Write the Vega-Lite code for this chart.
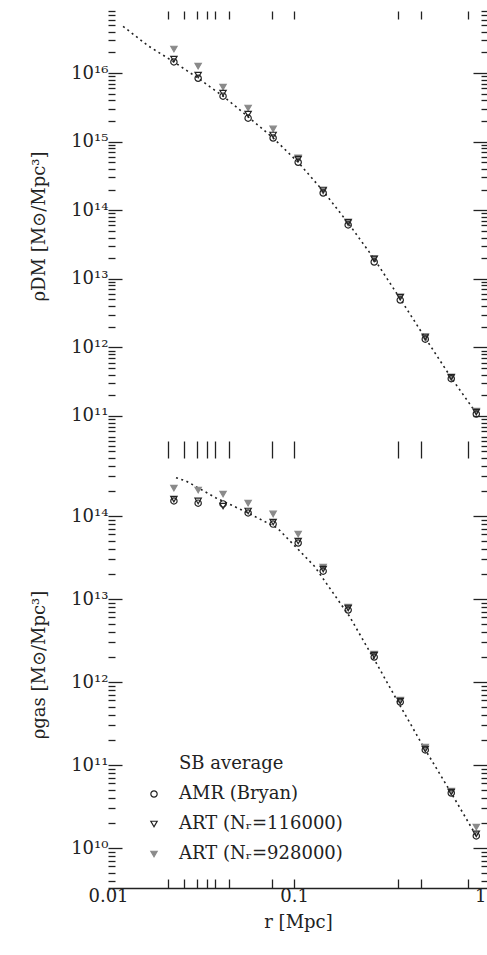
{
  "$schema": "https://vega.github.io/schema/vega-lite/v6.json",
  "padding": {"left": 30, "top": 10, "right": 0, "bottom": 5},
  "background": "white",
  "spacing": 0,
  "bounds": "flush",
  "config": {
    "view": {"stroke": null},
    "font": "DejaVu Serif",
    "axis": {"grid": false, "domain": false, "labelFont": "DejaVu Serif", "titleFont": "DejaVu Serif", "labelFontSize": 18, "titleFontSize": 18, "titleFontWeight": "normal", "labelColor": "#222", "titleColor": "#222", "tickColor": "#222", "tickWidth": 1.3, "labelOverlap": false, "labelFlush": false},
    "legend": {"orient": "none", "legendX": 37, "legendY": 744, "title": null, "labelFontSize": 18, "labelFont": "DejaVu Serif", "labelColor": "#222", "labelLimit": 0, "rowPadding": 12, "labelOffset": 16, "padding": 0, "symbolStrokeWidth": 1.2}
  },
  "datasets": {
    "dm": [
      {"series": "ART (Nᵣ=928000)", "r": 0.0226, "rho": 2.24e16},
      {"series": "ART (Nᵣ=928000)", "r": 0.0305, "rho": 1.26e16},
      {"series": "ART (Nᵣ=928000)", "r": 0.0415, "rho": 6.25e15},
      {"series": "ART (Nᵣ=928000)", "r": 0.0566, "rho": 3.09e15},
      {"series": "ART (Nᵣ=928000)", "r": 0.0771, "rho": 1.53e15},
      {"series": "ART (Nᵣ=928000)", "r": 0.1051, "rho": 5.8e14},
      {"series": "ART (Nᵣ=928000)", "r": 0.1432, "rho": 1.9e14},
      {"series": "ART (Nᵣ=928000)", "r": 0.1951, "rho": 6.5e13},
      {"series": "ART (Nᵣ=928000)", "r": 0.2692, "rho": 1.95e13},
      {"series": "ART (Nᵣ=928000)", "r": 0.3715, "rho": 5.4e12},
      {"series": "ART (Nᵣ=928000)", "r": 0.5063, "rho": 1.37e12},
      {"series": "ART (Nᵣ=928000)", "r": 0.6982, "rho": 3.6e11},
      {"series": "ART (Nᵣ=928000)", "r": 0.9517, "rho": 1.18e11},
      {"series": "AMR (Bryan)", "r": 0.0226, "rho": 1.45e16},
      {"series": "AMR (Bryan)", "r": 0.0305, "rho": 8.4e15},
      {"series": "AMR (Bryan)", "r": 0.0415, "rho": 4.6e15},
      {"series": "AMR (Bryan)", "r": 0.0566, "rho": 2.2e15},
      {"series": "AMR (Bryan)", "r": 0.0771, "rho": 1.13e15},
      {"series": "AMR (Bryan)", "r": 0.1051, "rho": 5.0e14},
      {"series": "AMR (Bryan)", "r": 0.1432, "rho": 1.78e14},
      {"series": "AMR (Bryan)", "r": 0.1951, "rho": 6.1e13},
      {"series": "AMR (Bryan)", "r": 0.2692, "rho": 1.76e13},
      {"series": "AMR (Bryan)", "r": 0.3715, "rho": 4.9e12},
      {"series": "AMR (Bryan)", "r": 0.5063, "rho": 1.32e12},
      {"series": "AMR (Bryan)", "r": 0.6982, "rho": 3.5e11},
      {"series": "AMR (Bryan)", "r": 0.9517, "rho": 1.07e11},
      {"series": "ART (Nᵣ=116000)", "r": 0.0226, "rho": 1.6e16},
      {"series": "ART (Nᵣ=116000)", "r": 0.0305, "rho": 9.35e15},
      {"series": "ART (Nᵣ=116000)", "r": 0.0415, "rho": 5.1e15},
      {"series": "ART (Nᵣ=116000)", "r": 0.0566, "rho": 2.52e15},
      {"series": "ART (Nᵣ=116000)", "r": 0.0771, "rho": 1.25e15},
      {"series": "ART (Nᵣ=116000)", "r": 0.1051, "rho": 5.57e14},
      {"series": "ART (Nᵣ=116000)", "r": 0.1432, "rho": 1.97e14},
      {"series": "ART (Nᵣ=116000)", "r": 0.1951, "rho": 6.7e13},
      {"series": "ART (Nᵣ=116000)", "r": 0.2692, "rho": 1.95e13},
      {"series": "ART (Nᵣ=116000)", "r": 0.3715, "rho": 5.4e12},
      {"series": "ART (Nᵣ=116000)", "r": 0.5063, "rho": 1.42e12},
      {"series": "ART (Nᵣ=116000)", "r": 0.6982, "rho": 3.7e11},
      {"series": "ART (Nᵣ=116000)", "r": 0.9517, "rho": 1.14e11},
      {"series": "SB average", "r": 0.01205, "rho": 4.8e16},
      {"series": "SB average", "r": 0.0164, "rho": 2.5e16},
      {"series": "SB average", "r": 0.0226, "rho": 1.45e16},
      {"series": "SB average", "r": 0.0305, "rho": 8.4e15},
      {"series": "SB average", "r": 0.0415, "rho": 4.6e15},
      {"series": "SB average", "r": 0.0566, "rho": 2.3e15},
      {"series": "SB average", "r": 0.0771, "rho": 1.13e15},
      {"series": "SB average", "r": 0.1051, "rho": 5.0e14},
      {"series": "SB average", "r": 0.1432, "rho": 1.9e14},
      {"series": "SB average", "r": 0.1951, "rho": 6.5e13},
      {"series": "SB average", "r": 0.2692, "rho": 1.95e13},
      {"series": "SB average", "r": 0.3715, "rho": 5.1e12},
      {"series": "SB average", "r": 0.5063, "rho": 1.37e12},
      {"series": "SB average", "r": 0.6982, "rho": 3.6e11},
      {"series": "SB average", "r": 0.9517, "rho": 1.1e11}
    ],
    "gas": [
      {"series": "ART (Nᵣ=928000)", "r": 0.0226, "rho": 2.17e14},
      {"series": "ART (Nᵣ=928000)", "r": 0.0305, "rho": 2.06e14},
      {"series": "ART (Nᵣ=928000)", "r": 0.0415, "rho": 1.84e14},
      {"series": "ART (Nᵣ=928000)", "r": 0.0566, "rho": 1.43e14},
      {"series": "ART (Nᵣ=928000)", "r": 0.0771, "rho": 1.06e14},
      {"series": "ART (Nᵣ=928000)", "r": 0.1051, "rho": 6.07e13},
      {"series": "ART (Nᵣ=928000)", "r": 0.1432, "rho": 2.43e13},
      {"series": "ART (Nᵣ=928000)", "r": 0.1951, "rho": 8.0e12},
      {"series": "ART (Nᵣ=928000)", "r": 0.2692, "rho": 2.17e12},
      {"series": "ART (Nᵣ=928000)", "r": 0.3715, "rho": 6.07e11},
      {"series": "ART (Nᵣ=928000)", "r": 0.5063, "rho": 1.65e11},
      {"series": "ART (Nᵣ=928000)", "r": 0.6982, "rho": 4.86e10},
      {"series": "ART (Nᵣ=928000)", "r": 0.9517, "rho": 1.79e10},
      {"series": "AMR (Bryan)", "r": 0.0226, "rho": 1.52e14},
      {"series": "AMR (Bryan)", "r": 0.0305, "rho": 1.43e14},
      {"series": "AMR (Bryan)", "r": 0.0415, "rho": 1.4e14},
      {"series": "AMR (Bryan)", "r": 0.0566, "rho": 1.09e14},
      {"series": "AMR (Bryan)", "r": 0.0771, "rho": 8.0e13},
      {"series": "AMR (Bryan)", "r": 0.1051, "rho": 4.73e13},
      {"series": "AMR (Bryan)", "r": 0.1432, "rho": 2.17e13},
      {"series": "AMR (Bryan)", "r": 0.1951, "rho": 7.37e12},
      {"series": "AMR (Bryan)", "r": 0.2692, "rho": 2.0e12},
      {"series": "AMR (Bryan)", "r": 0.3715, "rho": 5.74e11},
      {"series": "AMR (Bryan)", "r": 0.5063, "rho": 1.52e11},
      {"series": "AMR (Bryan)", "r": 0.6982, "rho": 4.6e10},
      {"series": "AMR (Bryan)", "r": 0.9517, "rho": 1.4e10},
      {"series": "ART (Nᵣ=116000)", "r": 0.0226, "rho": 1.6e14},
      {"series": "ART (Nᵣ=116000)", "r": 0.0305, "rho": 1.52e14},
      {"series": "ART (Nᵣ=116000)", "r": 0.0415, "rho": 1.32e14},
      {"series": "ART (Nᵣ=116000)", "r": 0.0566, "rho": 1.15e14},
      {"series": "ART (Nᵣ=116000)", "r": 0.0771, "rho": 8.47e13},
      {"series": "ART (Nᵣ=116000)", "r": 0.1051, "rho": 5.0e13},
      {"series": "ART (Nᵣ=116000)", "r": 0.1432, "rho": 2.3e13},
      {"series": "ART (Nᵣ=116000)", "r": 0.1951, "rho": 7.8e12},
      {"series": "ART (Nᵣ=116000)", "r": 0.2692, "rho": 2.11e12},
      {"series": "ART (Nᵣ=116000)", "r": 0.3715, "rho": 5.9e11},
      {"series": "ART (Nᵣ=116000)", "r": 0.5063, "rho": 1.56e11},
      {"series": "ART (Nᵣ=116000)", "r": 0.6982, "rho": 4.73e10},
      {"series": "ART (Nᵣ=116000)", "r": 0.9517, "rho": 1.48e10},
      {"series": "SB average", "r": 0.0232, "rho": 2.9e14},
      {"series": "SB average", "r": 0.0263, "rho": 2.64e14},
      {"series": "SB average", "r": 0.0381, "rho": 1.65e14},
      {"series": "SB average", "r": 0.0538, "rho": 1.15e14},
      {"series": "SB average", "r": 0.0811, "rho": 7.2e13},
      {"series": "SB average", "r": 0.1067, "rho": 3.83e13},
      {"series": "SB average", "r": 0.1282, "rho": 2.5e13},
      {"series": "SB average", "r": 0.1977, "rho": 6.24e12},
      {"series": "SB average", "r": 0.2725, "rho": 1.79e12},
      {"series": "SB average", "r": 0.3715, "rho": 5.14e11},
      {"series": "SB average", "r": 0.5, "rho": 1.6e11},
      {"series": "SB average", "r": 0.6982, "rho": 4.6e10},
      {"series": "SB average", "r": 0.9517, "rho": 1.4e10}
    ]
  },
  "vconcat": [
    {
      "width": 380,
      "height": 430,
      "data": {"name": "dm"},
      "layer": [
        {
          "transform": [{"filter": "datum.series === 'SB average'"}],
          "mark": {"type": "line", "color": "#222", "strokeDash": [2, 3.5], "strokeWidth": 1.6},
          "encoding": {
            "x": {"field": "r", "type": "quantitative", "scale": {"type": "log", "domain": [0.01, 1.1], "nice": false},
              "axis": {"orient": "top", "values": [0.02102, 0.02563, 0.0301, 0.03405, 0.03761, 0.04473, 0.07614, 0.1, 0.3623, 0.4818, 0.862], "labels": false, "tickSize": -8, "title": null}},
            "y": {"field": "rho", "type": "quantitative", "scale": {"type": "log", "domain": [4.32e10, 8.02e16], "nice": false},
              "axis": {"orient": "left", "title": "ρDM [M⊙/Mpc³]", "titlePadding": 22,
                "values": [1e11, 1e12, 1e13, 1e14, 1e15, 1e16],
                "tickSize": -14, "labelPadding": 14,
                "labelExpr": "'10' + substring('⁰¹²³⁴⁵⁶⁷⁸⁹', floor(round(log(datum.value)/LN10)/10), floor(round(log(datum.value)/LN10)/10)+1) + substring('⁰¹²³⁴⁵⁶⁷⁸⁹', round(log(datum.value)/LN10)%10, round(log(datum.value)/LN10)%10+1)"}}
          }
        },
        {
          "mark": {"type": "point", "opacity": 0},
          "encoding": {
            "x": {"field": "r", "type": "quantitative", "scale": {"type": "log", "domain": [0.01, 1.1], "nice": false}, "axis": null},
            "y": {"field": "rho", "type": "quantitative", "scale": {"type": "log", "domain": [4.32e10, 8.02e16], "nice": false},
              "axis": {"orient": "left", "title": null, "labels": false, "tickSize": -7,
                "values": [5e10,6e10,7e10,8e10,9e10,2e11,3e11,4e11,5e11,6e11,7e11,8e11,9e11,2e12,3e12,4e12,5e12,6e12,7e12,8e12,9e12,2e13,3e13,4e13,5e13,6e13,7e13,8e13,9e13,2e14,3e14,4e14,5e14,6e14,7e14,8e14,9e14,2e15,3e15,4e15,5e15,6e15,7e15,8e15,9e15,2e16,3e16,4e16,5e16,6e16,7e16,8e16]}}
          }
        },
        {
          "mark": {"type": "point", "opacity": 0},
          "encoding": {
            "x": {"field": "r", "type": "quantitative", "scale": {"type": "log", "domain": [0.01, 1.1], "nice": false}, "axis": null},
            "y": {"field": "rho", "type": "quantitative", "scale": {"type": "log", "domain": [4.32e10, 8.02e16], "nice": false},
              "axis": {"orient": "right", "title": null, "labels": false, "tickSize": -7,
                "values": [5e10,6e10,7e10,8e10,9e10,2e11,3e11,4e11,5e11,6e11,7e11,8e11,9e11,2e12,3e12,4e12,5e12,6e12,7e12,8e12,9e12,2e13,3e13,4e13,5e13,6e13,7e13,8e13,9e13,2e14,3e14,4e14,5e14,6e14,7e14,8e14,9e14,2e15,3e15,4e15,5e15,6e15,7e15,8e15,9e15,2e16,3e16,4e16,5e16,6e16,7e16,8e16]}}
          }
        },
        {
          "transform": [{"filter": "datum.series !== 'SB average'"}],
          "mark": {"type": "point", "strokeWidth": 1.2, "opacity": 1},
          "encoding": {
            "x": {"field": "r", "type": "quantitative", "scale": {"type": "log", "domain": [0.01, 1.1], "nice": false}, "axis": null},
            "y": {"field": "rho", "type": "quantitative", "scale": {"type": "log", "domain": [4.32e10, 8.02e16], "nice": false},
              "axis": {"orient": "right", "title": null, "labels": false, "tickSize": -15,
                "values": [1e11, 1e12, 1e13, 1e14, 1e15, 1e16]}},
            "shape": {"field": "series", "type": "nominal", "scale": {"domain": ["SB average", "AMR (Bryan)", "ART (Nᵣ=116000)", "ART (Nᵣ=928000)"], "range": ["circle", "circle", "triangle-down", "triangle-down"]}},
            "fill": {"field": "series", "type": "nominal", "scale": {"domain": ["SB average", "AMR (Bryan)", "ART (Nᵣ=116000)", "ART (Nᵣ=928000)"], "range": ["transparent", "transparent", "transparent", "#8a8a8a"]}},
            "stroke": {"field": "series", "type": "nominal", "scale": {"domain": ["SB average", "AMR (Bryan)", "ART (Nᵣ=116000)", "ART (Nᵣ=928000)"], "range": ["transparent", "#222", "#222", "#8a8a8a"]}},
            "size": {"field": "series", "type": "nominal", "scale": {"domain": ["SB average", "AMR (Bryan)", "ART (Nᵣ=116000)", "ART (Nᵣ=928000)"], "range": [40, 40, 35, 60]}}
          }
        }
      ],
      "resolve": {"axis": {"x": "independent", "y": "independent"}}
    },
    {
      "width": 380,
      "height": 447,
      "data": {"name": "gas"},
      "layer": [
        {
          "transform": [{"filter": "datum.series === 'SB average'"}],
          "mark": {"type": "line", "color": "#222", "strokeDash": [2, 3.5], "strokeWidth": 1.6},
          "encoding": {
            "x": {"field": "r", "type": "quantitative", "scale": {"type": "log", "domain": [0.01, 1.1], "nice": false},
              "axis": {"orient": "bottom", "domain": true, "domainColor": "#222", "domainWidth": 1.5, "values": [0.01, 0.02102, 0.02563, 0.0301, 0.03405, 0.03761, 0.04473, 0.07614, 0.1, 0.3623, 0.4818, 0.862, 1], "tickSize": -9,
                "tickOpacity": {"condition": {"test": "datum.value == 0.01 || datum.value == 1", "value": 0}, "value": 1},
                "labelExpr": "datum.value == 0.01 ? '0.01' : (datum.value == 0.1 ? '0.1' : (datum.value == 1 ? '1' : ''))",
                "labelPadding": 8, "title": "r [Mpc]", "titlePadding": 8}},
            "y": {"field": "rho", "type": "quantitative", "scale": {"type": "log", "domain": [3.3e9, 8.02e14], "nice": false},
              "axis": {"orient": "left", "title": "ρgas [M⊙/Mpc³]", "titlePadding": 22,
                "values": [1e10, 1e11, 1e12, 1e13, 1e14],
                "tickSize": -14, "labelPadding": 14,
                "labelExpr": "'10' + substring('⁰¹²³⁴⁵⁶⁷⁸⁹', floor(round(log(datum.value)/LN10)/10), floor(round(log(datum.value)/LN10)/10)+1) + substring('⁰¹²³⁴⁵⁶⁷⁸⁹', round(log(datum.value)/LN10)%10, round(log(datum.value)/LN10)%10+1)"}}
          }
        },
        {
          "mark": {"type": "point", "opacity": 0},
          "encoding": {
            "x": {"field": "r", "type": "quantitative", "scale": {"type": "log", "domain": [0.01, 1.1], "nice": false},
              "axis": {"orient": "top", "values": [0.02102, 0.02563, 0.0301, 0.03405, 0.03761, 0.04473, 0.07614, 0.1, 0.3623, 0.4818, 0.862], "labels": false, "tickSize": -17, "title": null}},
            "y": {"field": "rho", "type": "quantitative", "scale": {"type": "log", "domain": [3.3e9, 8.02e14], "nice": false},
              "axis": {"orient": "left", "title": null, "labels": false, "tickSize": -7,
                "values": [4e9,5e9,6e9,7e9,8e9,9e9,2e10,3e10,4e10,5e10,6e10,7e10,8e10,9e10,2e11,3e11,4e11,5e11,6e11,7e11,8e11,9e11,2e12,3e12,4e12,5e12,6e12,7e12,8e12,9e12,2e13,3e13,4e13,5e13,6e13,7e13,8e13,9e13,2e14,3e14,4e14,5e14,6e14,7e14,8e14]}}
          }
        },
        {
          "mark": {"type": "point", "opacity": 0},
          "encoding": {
            "x": {"field": "r", "type": "quantitative", "scale": {"type": "log", "domain": [0.01, 1.1], "nice": false}, "axis": null},
            "y": {"field": "rho", "type": "quantitative", "scale": {"type": "log", "domain": [3.3e9, 8.02e14], "nice": false},
              "axis": {"orient": "right", "title": null, "labels": false, "tickSize": -7,
                "values": [4e9,5e9,6e9,7e9,8e9,9e9,2e10,3e10,4e10,5e10,6e10,7e10,8e10,9e10,2e11,3e11,4e11,5e11,6e11,7e11,8e11,9e11,2e12,3e12,4e12,5e12,6e12,7e12,8e12,9e12,2e13,3e13,4e13,5e13,6e13,7e13,8e13,9e13,2e14,3e14,4e14,5e14,6e14,7e14,8e14]}}
          }
        },
        {
          "transform": [{"filter": "datum.series !== 'SB average'"}],
          "mark": {"type": "point", "strokeWidth": 1.2, "opacity": 1},
          "encoding": {
            "x": {"field": "r", "type": "quantitative", "scale": {"type": "log", "domain": [0.01, 1.1], "nice": false}, "axis": null},
            "y": {"field": "rho", "type": "quantitative", "scale": {"type": "log", "domain": [3.3e9, 8.02e14], "nice": false},
              "axis": {"orient": "right", "title": null, "labels": false, "tickSize": -15,
                "values": [1e10, 1e11, 1e12, 1e13, 1e14]}},
            "shape": {"field": "series", "type": "nominal", "scale": {"domain": ["SB average", "AMR (Bryan)", "ART (Nᵣ=116000)", "ART (Nᵣ=928000)"], "range": ["circle", "circle", "triangle-down", "triangle-down"]}},
            "fill": {"field": "series", "type": "nominal", "scale": {"domain": ["SB average", "AMR (Bryan)", "ART (Nᵣ=116000)", "ART (Nᵣ=928000)"], "range": ["transparent", "transparent", "transparent", "#8a8a8a"]}},
            "stroke": {"field": "series", "type": "nominal", "scale": {"domain": ["SB average", "AMR (Bryan)", "ART (Nᵣ=116000)", "ART (Nᵣ=928000)"], "range": ["transparent", "#222", "#222", "#8a8a8a"]}},
            "size": {"field": "series", "type": "nominal", "scale": {"domain": ["SB average", "AMR (Bryan)", "ART (Nᵣ=116000)", "ART (Nᵣ=928000)"], "range": [40, 40, 35, 60]}}
          }
        }
      ],
      "resolve": {"axis": {"x": "independent", "y": "independent"}}
    }
  ]
}
